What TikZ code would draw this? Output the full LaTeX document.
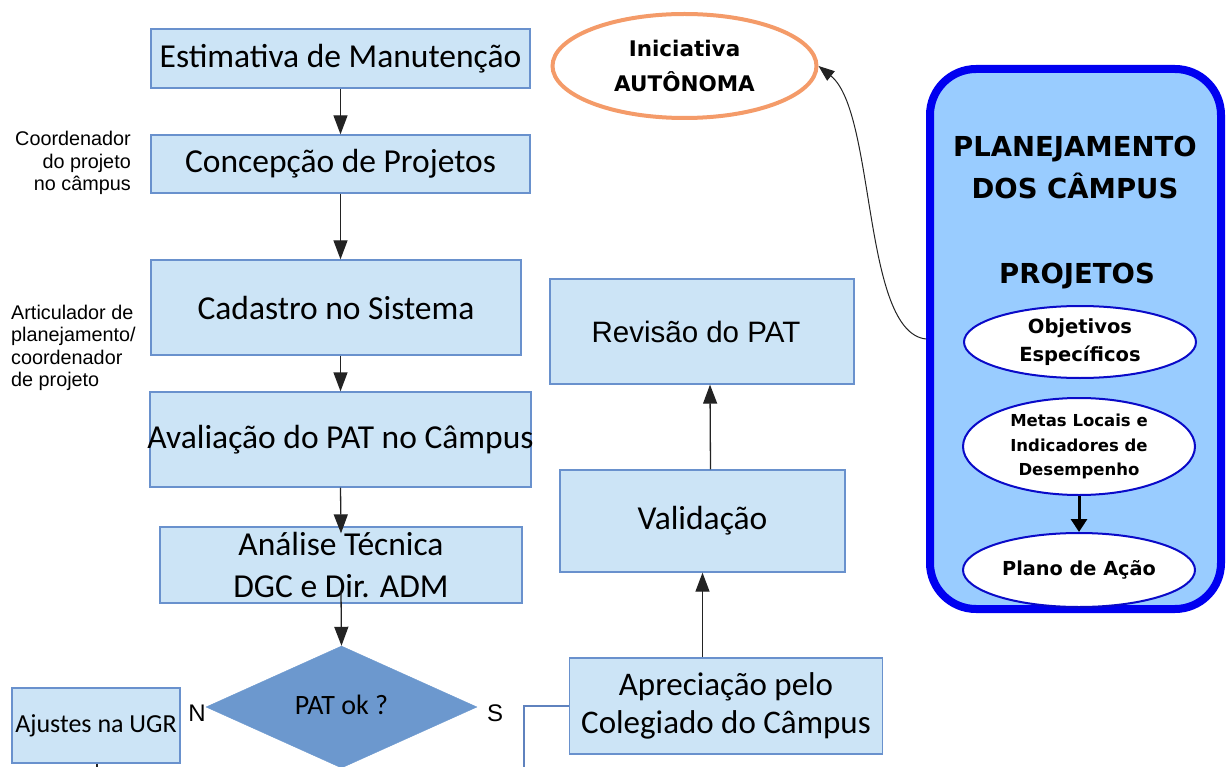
\documentclass[tikz,border=0pt]{standalone}
\usepackage{fontspec}
\setmainfont{Carlito}
\newfontfamily\arialf{Liberation Sans}
\newfontfamily\tahf{DejaVu Sans}
\usetikzlibrary{arrows.meta,shapes.geometric}

\definecolor{boxfill}{RGB}{204,228,246}
\definecolor{boxline}{RGB}{105,145,205}
\definecolor{diafill}{RGB}{108,152,206}
\definecolor{planfill}{RGB}{153,204,255}
\definecolor{planline}{RGB}{0,0,240}
\definecolor{ellline}{RGB}{10,10,200}
\definecolor{orangeline}{RGB}{244,155,105}
\definecolor{conn}{RGB}{35,35,35}
\definecolor{sconn}{RGB}{95,130,190}

\begin{document}
\begin{tikzpicture}[x=1pt,y=-1pt,
  box/.style={draw=boxline, fill=boxfill, line width=1.3pt, inner sep=0pt, align=center,
    font=\fontsize{33.5}{42}\selectfont},
  arr/.style={draw=conn, line width=1.3pt, -{Triangle[length=19pt,width=14pt]}},
  thinarr/.style={draw=conn, line width=1pt, -{Triangle[length=16pt,width=12pt]}},
  boldarr/.style={draw=black, line width=3pt, -{Triangle[length=13pt,width=16pt]}},
  plain/.style={draw=conn, line width=1.3pt},
  sline/.style={draw=sconn, line width=1.3pt},
  side/.style={inner sep=0pt, font=\arialf\fontsize{19.8}{22.5}\selectfont},
  inell/.style={ellipse, draw=ellline, line width=2pt, fill=white, inner sep=0pt, align=center},
]
\useasboundingbox (0,0) rectangle (1231,767);

% left column
\node[box, minimum width=379pt, minimum height=59pt] (est) at (340.5,58.5) {Estimativa de Manutenção};
\node[box, minimum width=379pt, minimum height=58pt] (con) at (340.5,164) {Concepção de Projetos};
\node[box, minimum width=370pt, minimum height=95pt] (cad) at (336,307.5) {Cadastro no Sistema};
\node[box, minimum width=381pt, minimum height=95pt] (ava) at (340.5,439.5) {\makebox[0pt]{Avaliação do PAT no Câmpus}};
\node[box, minimum width=362pt, minimum height=76pt] (an) at (341,565) {Análise Técnica\\DGC e Dir. ADM};
\node[diamond, draw=diafill, fill=diafill, inner sep=0pt, minimum width=271pt, minimum height=122pt,
  font=\fontsize{28}{30}\selectfont] (dia) at (341.5,707) {\raisebox{5pt}{PAT ok ?}};
\node[box, minimum width=168pt, minimum height=75pt, font=\fontsize{26}{30}\selectfont] (aju) at (96,725.5) {\makebox[0pt]{Ajustes na UGR}};
\node[inner sep=0pt, font=\arialf\fontsize{24}{26}\selectfont] (nlab) at (197,713) {N};
\node[inner sep=0pt, font=\arialf\fontsize{24}{26}\selectfont] (slab) at (495,713) {S};

% side labels
\node[side, anchor=east, align=right] (coordl) at (131,163) {Coordenador\\do projeto\\no câmpus};
\node[side, anchor=west, align=left] (artl) at (11,348) {Articulador de\\planejamento/\\coordenador\\de projeto};

% middle column
\node[box, minimum width=304pt, minimum height=105pt, font=\arialf\fontsize{29.5}{32}\selectfont] (rev) at (702,331.5) {\hspace*{-12pt}Revisão do PAT};
\node[box, minimum width=285pt, minimum height=102pt] (val) at (702.5,521) {Validação};
\node[box, minimum width=313pt, minimum height=96pt, font=\fontsize{33}{38}\selectfont] (apr) at (726,706) {Apreciação pelo\\Colegiado do Câmpus};

% Iniciativa
\node[ellipse, draw=orangeline, line width=4pt, fill=white, minimum width=264pt, minimum height=104pt,
  inner sep=0pt, align=center, font=\tahf\bfseries\fontsize{21.5}{35}\selectfont] (ini) at (684.5,66) {Iniciativa\\AUTÔNOMA};

% Planejamento
\node[draw=planline, line width=8pt, fill=planfill, rounded corners=46pt, minimum width=291pt,
  minimum height=540pt, inner sep=0pt] (plan) at (1075.5,339) {};
\node[inner sep=0pt, align=center, font=\tahf\bfseries\fontsize{27.5}{42}\selectfont] (ptitle) at (1075,167) {PLANEJAMENTO\\DOS CÂMPUS};
\node[inner sep=0pt, font=\tahf\bfseries\fontsize{27.5}{30}\selectfont] (proj) at (1077,276) {PROJETOS};
\node[inell, minimum width=232pt, minimum height=72pt, font=\tahf\bfseries\fontsize{19.5}{28}\selectfont] (obj) at (1080,342) {Objetivos\\Específicos};
\node[inell, minimum width=232pt, minimum height=97pt, font=\tahf\bfseries\fontsize{16.5}{24.5}\selectfont] (met) at (1079,446.5) {Metas Locais e\\Indicadores de\\Desempenho};
\node[inell, minimum width=232pt, minimum height=74pt, font=\tahf\bfseries\fontsize{19.3}{22}\selectfont] (pla) at (1079,570) {Plano de Ação};

% off-page ends
\coordinate (soff) at (524,800);
\coordinate (aoff) at (97,800);
\coordinate (doff) at (341.5,800);

% connectors
\draw[arr] (est.south) -- (con.north);
\draw[arr] (con.south) -- (con.south |- cad.north);
\draw[arr] (cad.south -| con.south) -- (ava.north -| con.south);
\draw[arr] (ava.south) -- ([yshift=-7pt]an.north);
\draw[arr] ([yshift=12pt]an.south) -- (dia.north);
\draw[plain] (dia.south) -- (doff);
\draw[plain] (aju.south -| aoff) -- (aoff);
\draw[sline] (apr.west) -| (soff);
\draw[arr] (apr.north -| val.south) -- (val.south);
\draw[arr] ([xshift=8pt]val.north) -- ([xshift=8pt]rev.south);
\draw[thinarr] (plan.west) .. controls (862,332) and (876,112) .. (ini.east);
\draw[boldarr] (met.south) -- (pla.north);
\end{tikzpicture}
\end{document}
